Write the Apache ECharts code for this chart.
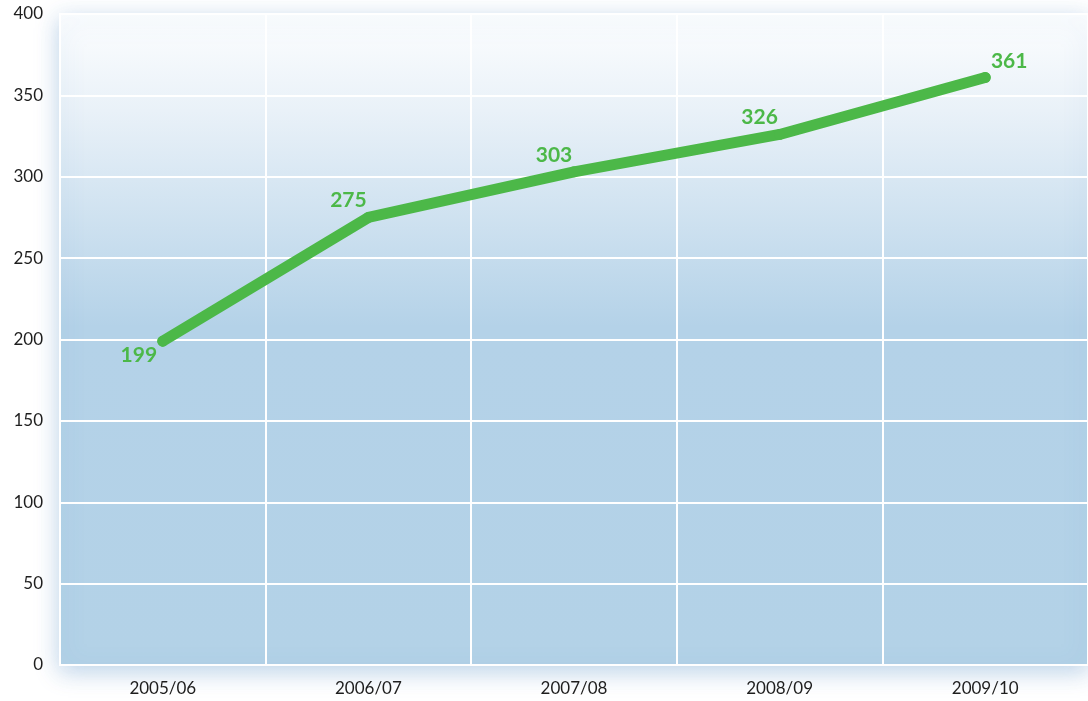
<!DOCTYPE html>
<html lang="en">
<head>
  <meta charset="UTF-8">
  <title>Line chart</title>
  <script src="https://cdn.jsdelivr.net/npm/echarts@6/dist/echarts.min.js"></script>
  <style>
    html, body { margin: 0; padding: 0; background: #fff; }
  </style>
</head>
<body>
<div id="main" style="width: 1088px;height: 701px;"></div>
<script>
  var years = ['2005/06', '2006/07', '2007/08', '2008/09', '2009/10'];
  var values = [199, 275, 303, 326, 361];
  var yTicks = [0, 50, 100, 150, 200, 250, 300, 350, 400];

  var green = '#4cb848';
  var font = 'Lato, "Open Sans", sans-serif';

  var myChart = echarts.init(document.getElementById('main'));

  // label placement around each point (below for the first, above otherwise)
  function labelFor(i) {
    if (i === 0) return { position: 'bottom', distance: 2, offset: [-24, -4] };
    if (i === values.length - 1) return { position: 'top', distance: 2, offset: [24, 2] };
    return { position: 'top', distance: 2, offset: [-20, 1] };
  }

  myChart.setOption({
    animation: false,
    grid: {
      show: true,
      left: 60,
      top: 14,
      bottom: 36,
      width: 1032,
      containLabel: false,
      borderColor: '#ffffff',
      borderWidth: 2,
      shadowBlur: 22,
      shadowOffsetY: 6,
      shadowColor: 'rgba(70, 130, 190, 0.35)',
      backgroundColor: {
        type: 'linear', x: 0, y: 0, x2: 0, y2: 1,
        colorStops: [
          { offset: 0, color: '#fdfeff' },
          { offset: 0.15, color: '#e9f1f8' },
          { offset: 0.48, color: '#b4d2e8' },
          { offset: 1, color: '#b3d2e7' }
        ]
      }
    },
    xAxis: {
      type: 'category',
      data: years,
      boundaryGap: true,
      axisLine: { show: false },
      axisTick: { show: false },
      axisLabel: { color: '#1e1e1e', fontSize: 17, fontFamily: font, margin: 15 },
      splitLine: { show: true, lineStyle: { color: '#ffffff', width: 2 } }
    },
    yAxis: {
      type: 'value',
      min: yTicks[0],
      max: yTicks[yTicks.length - 1],
      interval: 50,
      axisLine: { show: false },
      axisTick: { show: false },
      axisLabel: { color: '#1e1e1e', fontSize: 17, fontFamily: font, margin: 17 },
      splitLine: { show: true, lineStyle: { color: '#ffffff', width: 2 } }
    },
    series: [{
      type: 'line',
      data: values.map(function (v, i) {
        return { value: v, label: labelFor(i) };
      }),
      symbol: 'circle',
      symbolSize: 11,
      itemStyle: { color: green, borderWidth: 0 },
      lineStyle: { color: green, width: 11, cap: 'round', join: 'round' },
      label: {
        show: true,
        color: green,
        fontSize: 21,
        fontWeight: 'bold',
        fontFamily: font
      }
    }]
  });
</script>
</body>
</html>
